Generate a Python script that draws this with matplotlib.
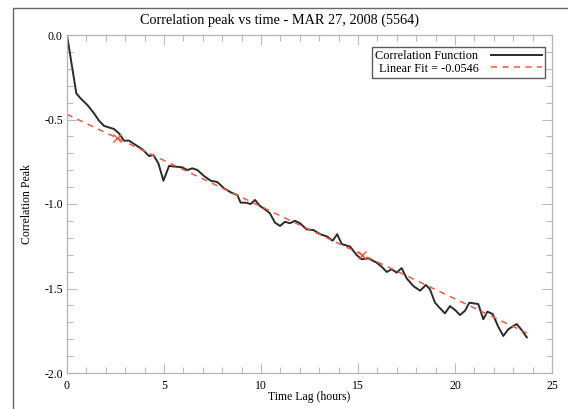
#!/usr/bin/env python3

import matplotlib
matplotlib.use("Agg")
import matplotlib.pyplot as plt
from matplotlib.patches import Rectangle
from matplotlib.ticker import MultipleLocator, FormatStrFormatter
import numpy as np

# correlation peak vs time lag (hours)
time_lag = [0.0, 0.48, 0.70, 1.05, 1.39, 1.65, 1.91, 2.42, 2.68, 2.94, 3.20, 3.54,
            3.88, 4.23, 4.45, 4.71, 4.97, 5.26, 5.60, 5.94, 6.20, 6.46, 6.72, 7.06,
            7.40, 7.75, 8.09, 8.44, 8.78, 8.95, 9.21, 9.47, 9.69, 9.95, 10.20, 10.46,
            10.72, 10.98, 11.24, 11.49, 11.75, 12.01, 12.35, 12.70, 13.04, 13.42, 13.69,
            13.93, 14.16, 14.59, 14.93, 15.19, 15.53, 15.96, 16.22, 16.48, 16.74, 16.99,
            17.25, 17.51, 17.85, 18.20, 18.50, 18.71, 18.97, 19.23, 19.48, 19.74, 20.00,
            20.26, 20.52, 20.74, 21.20, 21.46, 21.67, 21.94, 22.23, 22.49, 22.75, 23.18,
            23.44, 23.70]
corr_peak = [0.0, -0.345, -0.375, -0.414, -0.463, -0.507, -0.538, -0.556, -0.582, -0.625,
             -0.625, -0.651, -0.676, -0.716, -0.710, -0.759, -0.862, -0.775, -0.779, -0.783,
             -0.799, -0.789, -0.799, -0.834, -0.862, -0.870, -0.907, -0.931, -0.947, -0.992,
             -0.992, -1.000, -0.976, -1.012, -1.031, -1.055, -1.110, -1.130, -1.105, -1.114,
             -1.099, -1.114, -1.150, -1.154, -1.178, -1.193, -1.217, -1.179, -1.237, -1.252,
             -1.302, -1.327, -1.321, -1.347, -1.371, -1.402, -1.386, -1.406, -1.379, -1.440,
             -1.485, -1.513, -1.479, -1.505, -1.584, -1.617, -1.647, -1.604, -1.627, -1.657,
             -1.631, -1.584, -1.592, -1.682, -1.637, -1.651, -1.726, -1.781, -1.741, -1.710,
             -1.746, -1.789]

fit_slope = -0.0546
fit_intercept = -0.469
fit_marks = [2.6, 15.2]

plt.rcParams["font.family"] = ["Liberation Serif", "DejaVu Serif"]

fig = plt.figure(figsize=(5.68, 4.09), dpi=100)
ax = fig.add_axes([67/568, 1-373/409, (552-67)/568, (373-35)/409])

ax.plot(time_lag, corr_peak, color="#2b2b2b", lw=1.4, label="Correlation Function")
fit_x = np.array([0.0, time_lag[-1]])
ax.plot(fit_x, fit_intercept + fit_slope*fit_x, color="#f05a40", lw=1.1,
        ls=(0, (4, 3.5)), label="Linear Fit = %.4f" % fit_slope)
fm = np.array(fit_marks)
ax.plot(fm, fit_intercept + fit_slope*fm, ls="none", marker="x", ms=6,
        mew=1.0, color="#f05a40")

ax.set_xlim(0, 25)
ax.set_ylim(-2.0, 0.0)
ax.xaxis.set_major_locator(MultipleLocator(5))
ax.xaxis.set_minor_locator(MultipleLocator(1))
ax.yaxis.set_major_locator(MultipleLocator(0.5))
ax.yaxis.set_minor_locator(MultipleLocator(0.1))
ax.yaxis.set_major_formatter(FormatStrFormatter("%.1f"))
ax.tick_params(which="both", direction="in", top=True, right=True,
               color="#bbbbbb", labelsize=8.5, width=0.8)
ax.tick_params(which="major", length=7)
ax.tick_params(which="minor", length=4)
ax.tick_params(axis="x", pad=5)
ax.tick_params(axis="y", pad=3)
for s in ax.spines.values():
    s.set_color("#b5b5b5")
    s.set_linewidth(0.9)

ax.set_xlabel("Time Lag (hours)", fontsize=8.5, labelpad=-1)
ax.set_ylabel("Correlation Peak", fontsize=8.5, labelpad=8)
fig.text(279/568, 1-20/409, "Correlation peak vs time - MAR 27, 2008 (5564)",
         fontsize=10.3, ha="center", va="center")

leg = ax.legend(loc="upper right", bbox_to_anchor=((545-67)/485, 1-(47-35)/338),
                markerfirst=False, fontsize=8.8, frameon=True, fancybox=False,
                edgecolor="#333333", handlelength=4.2, borderaxespad=0.0,
                borderpad=0.25, labelspacing=0.05, handletextpad=1.0)
leg.get_frame().set_linewidth(1.0)

# partial frame left over from the screenshot
fig.add_artist(Rectangle((13/568, -0.05), 1.0, 1-8/409+0.05, transform=fig.transFigure,
                         fill=False, edgecolor="#666666", lw=1.0))

fig.savefig("out.png", dpi=100)
plt.close(fig)
